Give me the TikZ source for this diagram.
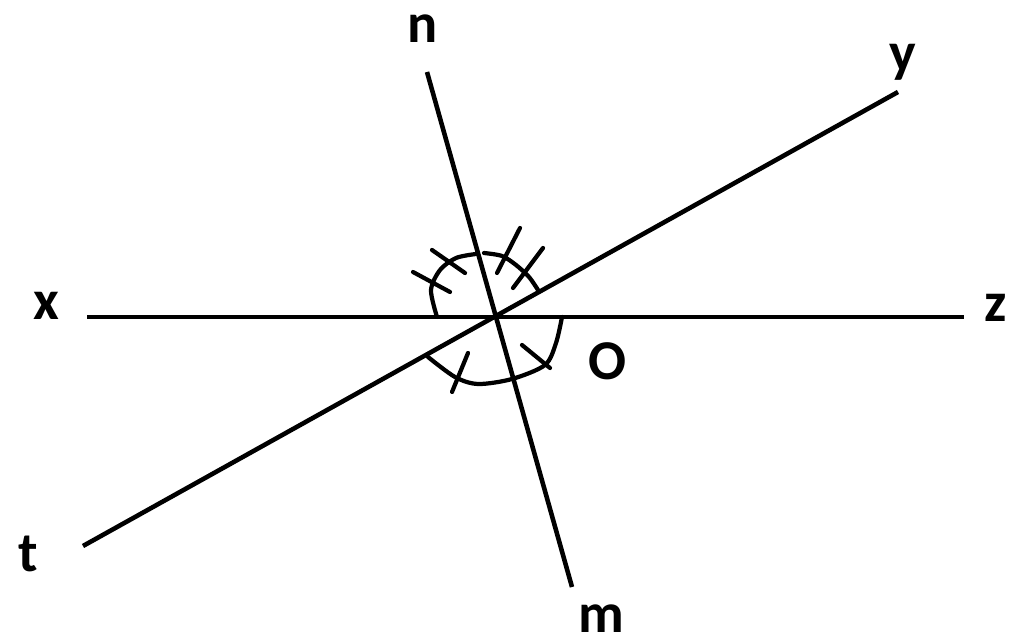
\documentclass[tikz,border=0pt]{standalone}
\usepackage{fontspec}
\setmainfont{Carlito}
\begin{document}
\begin{tikzpicture}[x=0.02cm,y=-0.02cm,
  mainline/.style={line width=2.6pt},
  markline/.style={line width=2.4pt,line cap=round,line join=round},
  lbl/.style={font=\fontsize{32}{36}\selectfont\bfseries,anchor=base,inner sep=0pt}]
\useasboundingbox[fill=white] (0,0) rectangle (1024,644);
% line end points
\coordinate (X) at (87,317);
\coordinate (Z) at (964,317);
\coordinate (T) at (83,546);
\coordinate (Y) at (898,92);
\coordinate (N) at (427,72);
\coordinate (M) at (572,587);
\coordinate (O) at (495,317);
% labels
\node[lbl] (lx) at (46,320) {x};
\node[lbl] (lz) at (996,322) {z};
\node[lbl] (ly) at (903,72) {y};
\node[lbl] (lt) at (28,572) {t};
\node[lbl] (ln) at (423,43) {n};
\node[lbl] (lm) at (601,632) {m};
\node[lbl] (lo) at (608,380) {O};
% lines
\draw[mainline] (X) -- (Z);
\draw[mainline] (T) -- (Y);
\draw[mainline] (N) -- (M);
% angle arcs
\draw[markline] plot[smooth] coordinates {(437,317) (431,290) (440,270) (456,258) (476,254)};
\draw[markline] plot[smooth] coordinates {(484,253) (502,256) (516,265) (529,277) (538,290)};
\draw[markline] plot[smooth] coordinates {(428,357) (455,377) (478,384) (512,379) (545,365) (556,343) (562,317)};
% ticks
\draw[markline] (413,272) -- (450,292);
\draw[markline] (432,250) -- (465,273);
\draw[markline] (520,228) -- (497,273);
\draw[markline] (543,248) -- (513,288);
\draw[markline] (468,353) -- (452,392);
\draw[markline] (522,345) -- (550,368);
\end{tikzpicture}
\end{document}
